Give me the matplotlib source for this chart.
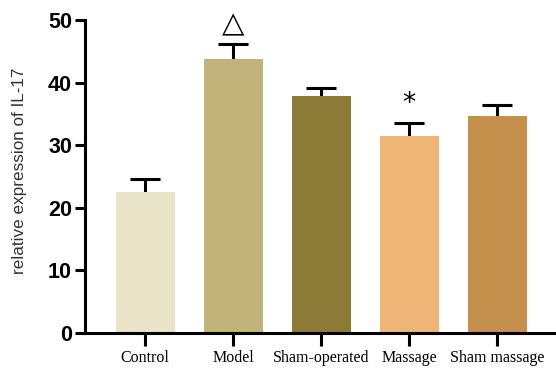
import matplotlib
matplotlib.use("Agg")
import matplotlib.pyplot as plt

groups = ["Control", "Model", "Sham-operated", "Massage", "Sham massage"]
means = [22.6, 43.8, 37.9, 31.4, 34.6]
errors = [2.0, 2.4, 1.2, 2.2, 1.8]
colors = ["#E9E4C7", "#C0B47B", "#8B7B36", "#EFB577", "#C4904B"]
marks = ["", "\u25B3", "", "*", ""]
yticks = [0, 10, 20, 30, 40, 50]

fig = plt.figure(figsize=(5.56, 3.69), dpi=100)
ax = fig.add_axes([0.152, 0.0976, 0.848, 0.848])

x = list(range(len(groups)))
ax.bar(x, means, width=0.67, color=colors, zorder=2)
_, caps, _ = ax.errorbar(x, means, yerr=[[0] * len(errors), errors], fmt="none",
                         ecolor="black", elinewidth=2.2, capsize=10.5,
                         capthick=2.2, zorder=1)
# only the upper cap is shown
caps[0].set_visible(False)

for xi, m, e, mk in zip(x, means, errors, marks):
    if not mk:
        continue
    if mk == "*":
        ax.text(xi, m + e + 0.9, mk, ha="center", va="bottom", fontsize=19,
                family="DejaVu Sans", clip_on=False)
    else:
        ax.text(xi, m + e + 0.8, mk, ha="center", va="bottom", fontsize=21,
                family="DejaVu Sans", clip_on=False)

ax.set_xlim(-0.69, 4.67)
ax.set_ylim(0, 50)
ax.set_yticks(yticks)
ax.set_yticklabels([str(t) for t in yticks], fontsize=15.5, fontweight="bold",
                   family="Liberation Sans")
ax.set_xticks(x)
ax.set_xticklabels(groups, fontsize=11.5, family="Liberation Serif")

for side in ("top", "right"):
    ax.spines[side].set_visible(False)
for side in ("left", "bottom"):
    ax.spines[side].set_linewidth(2.2)
ax.tick_params(axis="both", width=2.2, color="black")
ax.tick_params(axis="x", length=9.5, pad=2.5)
ax.tick_params(axis="y", length=7, pad=2)

ax.set_ylabel("relative expression of IL-17", fontsize=12.3, family="Liberation Sans",
              color="#333333")
ax.yaxis.set_label_coords(-0.122, 0.519)

fig.savefig("out.png", dpi=100)
